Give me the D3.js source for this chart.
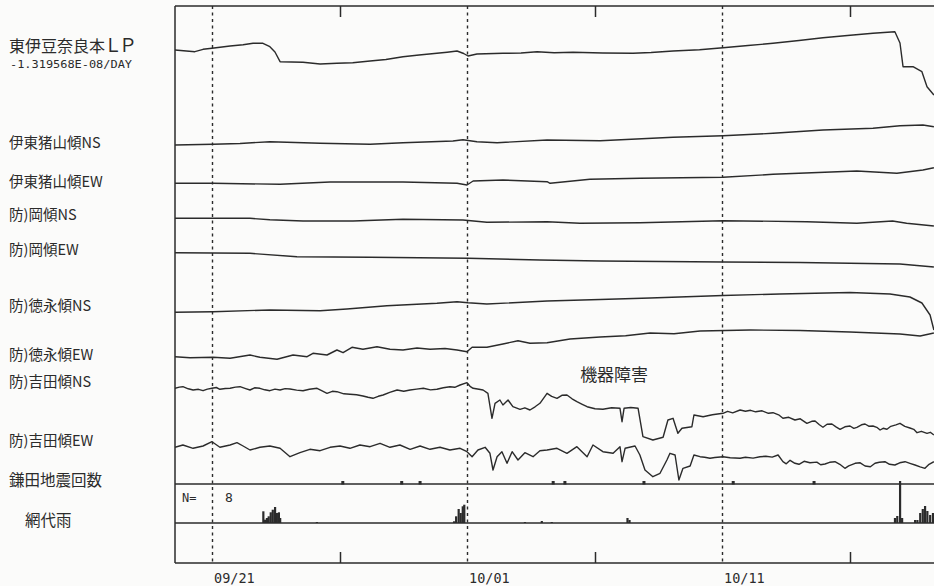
<!DOCTYPE html>
<html><head><meta charset="utf-8">
<script src="https://cdn.jsdelivr.net/npm/d3@7"></script>
<style>
body{margin:0;background:#fbfbfa;}
svg{display:block;}
</style></head><body>
<svg id="chart" width="934" height="586"></svg>
<script>
// ---------------- DATA ----------------
// time in days after 09/21 00:00
const dateLabels = ["09/21", "10/01", "10/11"];
const labelDays = [0, 10, 20];
const minorTickDays = [5, 15, 25];

const lpTitleMain = "東伊豆奈良本";
const lpTitleCode = "ＬＰ";
const lpRate = "-1.319568E-08/DAY";
const trackNames = ["伊東猪山傾NS", "伊東猪山傾EW", "防)岡傾NS", "防)岡傾EW",
  "防)徳永傾NS", "防)徳永傾EW", "防)吉田傾NS", "防)吉田傾EW"];
const quakeLabel = "鎌田地震回数";
const rainLabel = "網代雨";
const faultNote = "機器障害";
const faultNoteDay = 15.75;

// strain / tilt traces: [day, relative value]
const lpSeries = [[-1.47,0],[-0.69,-1.7],[-0.37,0.7],[-0.02,1.7],[0.69,4],[1.2,5.2],[1.59,6.7],[1.98,6.7],[2.25,3.3],[2.45,-2],[2.65,-11.7],[3.1,-12],[3.55,-12.3],[4.22,-14],[4.88,-13.3],[5.5,-12.8],[6.18,-11],[6.8,-9.5],[7.47,-6.7],[8.1,-5],[8.8,-3.3],[9.2,-2.2],[9.59,-1],[9.85,-3.5],[10.02,-6],[10.37,-4],[11.39,-3.3],[12.1,-3],[12.73,-1.7],[13.4,-2.8],[14.14,-2.3],[15.3,-3],[16.49,-3.3],[17.2,-2.5],[18.06,-1],[19.1,0.2],[20.02,2.3],[21.0,4.5],[21.98,6.7],[23.0,9.5],[23.94,12.3],[24.9,14.5],[25.9,16.7],[26.76,18.3],[26.96,7],[27.08,-16.7],[27.47,-16.7],[27.82,-21.7],[28.02,-36.7],[28.29,-45]];
const inoyamaNS = [[-1.47,0],[0.02,0.7],[1.08,1.5],[2.25,3.3],[2.92,2.7],[4.22,1.7],[6.18,0.7],[7.47,2.3],[9.43,4],[9.82,5.3],[10.37,3.3],[11.16,2.3],[13.12,5],[15.2,4.3],[18.06,7.7],[20.02,9.3],[21.98,11.7],[23.94,15],[25.9,16.7],[26.96,19.3],[27.86,20],[28.29,18.3]];
const inoyamaEW = [[-1.47,0],[0.02,0],[2.65,-1],[4.61,1.3],[7.47,1.3],[9.59,0],[9.98,-1.7],[10.22,2.3],[11.39,3.3],[13.12,1.6],[13.24,0],[14.8,4],[16.76,5],[20.02,6],[21.98,9],[25.27,12.3],[26.84,10],[27.86,13.3],[28.29,15.6]];
const okaNS = [[-1.47,0],[0.02,0],[1.47,0],[2.25,-1.4],[3.55,-2.7],[5.51,-2.7],[7.47,-1],[9.82,-1.7],[10.76,-4],[13.12,-3.4],[14.41,-5],[16.76,-4.4],[20.02,-2.4],[23.31,-3.4],[25.27,-5],[26.67,-2.7],[27.22,-5],[28.29,-7.7]];
const okaEW = [[-1.47,0],[1.47,-0.6],[3.31,-4],[6.18,-4.6],[10.02,-5.6],[12.84,-7.3],[15.2,-8.3],[20.02,-9.3],[23.04,-9.8],[26.96,-11.3],[28.29,-14.3]];
const tokunagaNS = [[-1.47,0],[0.02,0.6],[2.25,2.3],[4.22,1.6],[5.27,3.3],[6.84,6.6],[8.8,9],[9.59,10.6],[10.02,9.6],[10.76,8.3],[13.12,11.3],[15.2,12.8],[17.16,14.3],[20.02,16.8],[22.25,18.3],[25.0,19.8],[26.57,18.3],[27.35,15.3],[27.82,9.3],[28.14,-2.7],[28.29,-17.7]];
const tokunagaEW = [[-1.47,0],[-0.88,-1],[0.02,-0.6],[0.69,-1.6],[1.47,1.7],[1.86,-0.6],[2.53,-2.6],[3.16,1.7],[3.71,0],[3.94,3.4],[4.49,1.7],[4.88,6.7],[5.12,4],[5.47,9.4],[5.9,7.4],[6.45,10],[6.96,7.4],[7.47,6.7],[8.02,8.7],[8.53,7.4],[9.12,8.2],[9.59,6.7],[9.98,5],[10.18,9.4],[10.76,9.4],[11.39,12.7],[11.98,16],[12.45,13.4],[13.12,14],[14.02,17.7],[15.2,19.7],[16.2,21],[17.16,23.7],[18.1,23],[19.12,25.7],[21.08,26.7],[23.04,26.2],[25.0,24.7],[26.96,22.7],[27.75,20.7],[28.29,23.7]];
const yoshidaNS = [[-1.47,0],[-1.3,1.2],[-1.16,1.6],[-0.95,-0.5],[-0.76,-1.7],[-0.55,-1],[-0.37,-2.4],[-0.2,-0.8],[-0.02,0],[0.15,0.8],[0.29,-1],[0.5,-0.2],[0.69,0],[0.9,1.2],[1.08,1.6],[1.3,-0.3],[1.47,-1.7],[1.65,0.5],[1.86,0],[2.05,-1.5],[2.25,-2.4],[2.45,-0.8],[2.65,-1.7],[2.85,-0.3],[3.04,-0.7],[3.3,-1.8],[3.55,-2.4],[3.8,-1],[4.1,0],[4.3,-2.5],[4.49,-5],[4.7,-3],[4.88,-3.4],[5.15,-5.5],[5.39,-6],[5.65,-6.5],[5.9,-7.7],[6.1,-9],[6.29,-10],[6.5,-8],[6.69,-6.7],[6.95,-4],[7.24,-1.7],[7.5,-3],[7.75,-1.7],[8.0,-0.8],[8.27,0],[8.55,-1.6],[8.8,-1],[9.05,0.5],[9.31,1.6],[9.5,1],[9.71,3.3],[9.98,5.6],[10.1,2],[10.22,0],[10.45,-1],[10.61,-1.7],[10.8,-5],[10.96,-30],[11.08,-15],[11.27,-11.7],[11.39,-16.7],[11.59,-11.7],[11.78,-18.4],[12.06,-21],[12.25,-19.5],[12.45,-21.7],[12.65,-18.5],[12.84,-15],[13.12,-5],[13.3,-8],[13.51,-10],[13.7,-7],[13.9,-6.7],[14.1,-10.5],[14.29,-13.4],[14.5,-16],[14.69,-18.4],[15.0,-20.5],[15.31,-21],[15.65,-19.5],[15.98,-20],[16.06,-33.4],[16.14,-20],[16.4,-19.2],[16.69,-20],[16.88,-48.4],[17.27,-51.7],[17.67,-49],[17.86,-31.7],[18.06,-30],[18.25,-45],[18.41,-40],[18.8,-38.4],[18.88,-26.7],[19.24,-28.4],[19.6,-26.5],[20.02,-25],[20.2,-23],[20.4,-24.5],[20.69,-21.7],[20.9,-23],[21.1,-22],[21.3,-23.5],[21.55,-22.5],[21.8,-25],[21.98,-24.4],[22.2,-26.5],[22.37,-30],[22.6,-29],[22.84,-31.7],[23.05,-30.5],[23.31,-35],[23.5,-33],[23.63,-32.7],[23.8,-36.5],[23.94,-39],[24.1,-36],[24.29,-35.7],[24.45,-38.5],[24.61,-41],[24.8,-38.5],[25.0,-37.7],[25.15,-40],[25.27,-39],[25.45,-36.5],[25.59,-35.7],[25.75,-38],[25.9,-37.7],[26.05,-39],[26.18,-41.7],[26.3,-40],[26.45,-41],[26.6,-38],[26.8,-36.5],[26.96,-35],[27.15,-38],[27.35,-39.7],[27.5,-41],[27.63,-44.4],[27.8,-43],[28.02,-45],[28.15,-44],[28.29,-46.7]];
const yoshidaEW = [[-1.47,0],[-1.16,2.3],[-0.76,-1],[-0.37,1.3],[-0.02,5.6],[0.29,0],[0.69,2.3],[0.96,4.6],[1.2,1.3],[1.47,-2.7],[1.86,0],[2.25,1.3],[2.65,-1],[3.04,-9.4],[3.43,-5.4],[3.82,-2],[4.22,-3.4],[4.61,0],[5.0,1.3],[5.39,-1],[5.78,2.3],[6.18,0.6],[6.57,4],[6.96,0],[7.35,2.3],[7.75,-2],[8.14,1.3],[8.53,-2],[8.92,0],[9.31,-2.7],[9.71,-1],[9.98,-4.4],[10.18,-9.4],[10.41,-2.7],[10.69,0],[10.88,-6],[11.0,-22.7],[11.16,-9.4],[11.35,-4.4],[11.55,-16],[11.75,-4.4],[11.98,-12.7],[12.25,-5.4],[12.57,-9.4],[12.84,-3.4],[13.12,-2.7],[13.51,-1],[13.9,-6],[14.29,0.6],[14.69,-9.4],[14.92,2.3],[15.31,-4.4],[15.71,-6],[15.98,0.6],[16.06,-14.4],[16.18,-1],[16.57,1.3],[16.76,-7.7],[16.96,-22.7],[17.27,-29.4],[17.55,-26],[17.82,-12.7],[17.94,-6],[18.14,-7.7],[18.29,-32.7],[18.45,-21],[18.73,-18.7],[18.88,-7.7],[19.12,-9.4],[19.3,-10],[19.51,-11],[19.7,-10.2],[20.02,-9.4],[20.3,-10.5],[20.69,-11],[20.9,-10],[21.2,-10.8],[21.47,-9.4],[21.7,-9],[21.95,-9.8],[22.18,-7.7],[22.37,-14.4],[22.5,-16.5],[22.65,-13],[22.84,-16],[23.0,-17],[23.2,-14],[23.43,-15.4],[23.7,-14.8],[23.85,-17.5],[24.02,-16.7],[24.2,-15],[24.41,-14.4],[24.6,-17],[24.8,-21],[24.95,-18.5],[25.2,-16],[25.4,-15.5],[25.59,-18.7],[25.8,-19.5],[25.98,-16],[26.15,-15],[26.37,-14.4],[26.55,-17],[26.76,-17.7],[26.95,-15.5],[27.16,-14.4],[27.35,-16],[27.55,-17.7],[27.75,-19.5],[27.94,-21],[28.1,-17],[28.29,-14.4]];

// earthquake occurrences (count per event) and hourly rainfall (mm)
const quakeDays = [5.11, 7.42, 8.14, 13.36, 13.82, 16.92, 20.42, 23.59];
const quakeCounts = [1, 1, 1, 1, 1, 1, 1, 1];
const rainDays = [1.99,2.06,2.13,2.2,2.28,2.36,2.45,2.52,2.6,2.65,4.09,9.47,9.55,9.65,9.73,9.81,9.87,12.25,12.91,13.3,16.27,16.35,26.76,26.85,26.96,27.04,27.55,27.64,27.75,27.85,27.94,28.03,28.14,28.25];
const rainMM = [11.7,3.3,5,6.7,10.7,13.3,16,10,10.7,5,1,1.7,6.7,14,10,16.7,18.3,1,2,1,5,3,5,7,42,5,3,3,10,14,17,12,8,10];

// ---------------- LAYOUT ----------------
const W = 934, H = 586;
const frame = {left: 175, top: 6, right: 940, bottom: 563};
const quakeBase = 484, rainBase = 523;
const ink = "#2b2b2b";
const fontJP = "'Noto Sans CJK JP','Noto Sans CJK SC',sans-serif";

const t0 = Date.UTC(2000, 8, 21);
const toDate = d => new Date(t0 + d * 864e5);

const x = d3.scaleUtc()
  .domain([toDate(-1.4706), toDate(28.5294)])
  .range([frame.left, frame.right]);

const svg = d3.select("#chart");
svg.append("rect").attr("width", W).attr("height", H).attr("fill", "#fbfbfa");

svg.append("defs").append("clipPath").attr("id", "plotClip")
  .append("rect").attr("x", frame.left).attr("y", frame.top)
  .attr("width", frame.right - frame.left).attr("height", frame.bottom - frame.top);

// frame lines
const g = svg.append("g");
g.append("line").attr("x1", frame.left).attr("x2", frame.right).attr("y1", frame.top).attr("y2", frame.top);
g.append("line").attr("x1", frame.left).attr("x2", frame.right).attr("y1", frame.bottom).attr("y2", frame.bottom);
g.append("line").attr("x1", frame.left).attr("x2", frame.left).attr("y1", frame.top).attr("y2", frame.bottom);
g.append("line").attr("x1", frame.left).attr("x2", frame.right).attr("y1", quakeBase).attr("y2", quakeBase);
g.append("line").attr("x1", frame.left).attr("x2", frame.right).attr("y1", rainBase).attr("y2", rainBase);
g.selectAll("line").attr("stroke", ink).attr("stroke-width", 1.5);

// dashed day lines
svg.append("g").selectAll("line").data(labelDays).join("line")
  .attr("x1", d => x(toDate(d))).attr("x2", d => x(toDate(d)))
  .attr("y1", frame.top).attr("y2", frame.bottom)
  .attr("stroke", ink).attr("stroke-width", 1.4).attr("stroke-dasharray", "3,3.5");

// minor ticks (top & bottom, inward)
const topAxis = d3.axisTop(x).tickValues(minorTickDays.map(toDate)).tickSize(-11).tickFormat("");
const botAxis = d3.axisBottom(x).tickValues(minorTickDays.map(toDate)).tickSize(-11).tickFormat("");
[svg.append("g").attr("transform", `translate(0,${frame.top})`).call(topAxis),
 svg.append("g").attr("transform", `translate(0,${frame.bottom})`).call(botAxis)].forEach(a => {
  a.select(".domain").remove();
  a.selectAll(".tick line").attr("stroke", ink).attr("stroke-width", 1.5);
});

// date labels
const lblAxis = d3.axisBottom(x).tickValues(labelDays.map(toDate)).tickSize(0)
  .tickFormat((d, i) => dateLabels[i]);
const la = svg.append("g").attr("transform", `translate(0,${frame.bottom})`).call(lblAxis);
la.select(".domain").remove();
la.selectAll(".tick text").attr("text-anchor", "start").attr("dx", 1).attr("y", 10).attr("dy", "0.71em")
  .attr("font-family", "'DejaVu Sans Mono',monospace").attr("font-size", 13.5).attr("fill", ink);

// traces
const traces = [
  {data: lpSeries, base: 50},
  {data: inoyamaNS, base: 145},
  {data: inoyamaEW, base: 183.3},
  {data: okaNS, base: 218.3},
  {data: okaEW, base: 252.7},
  {data: tokunagaNS, base: 312.3},
  {data: tokunagaEW, base: 356.7},
  {data: yoshidaNS, base: 388.3},
  {data: yoshidaEW, base: 447.3}
];
const plot = svg.append("g").attr("clip-path", "url(#plotClip)");
traces.forEach(tr => {
  const y = d3.scaleLinear().domain([-60, 60]).range([tr.base + 60, tr.base - 60]);
  const line = d3.line().x(d => x(toDate(d[0]))).y(d => y(d[1]));
  plot.append("path").datum(tr.data).attr("d", line)
    .attr("fill", "none").attr("stroke", ink).attr("stroke-width", 1.4)
    .attr("stroke-linejoin", "round");
});

// earthquake marks
const yq = d3.scaleLinear().domain([0, 8]).range([quakeBase, quakeBase - 16]);
plot.append("g").selectAll("rect").data(quakeDays).join("rect")
  .attr("x", d => x(toDate(d)) - 1.5).attr("width", 3)
  .attr("y", (d, i) => yq(quakeCounts[i]) - 1).attr("height", (d, i) => quakeBase - yq(quakeCounts[i]) + 1.5)
  .attr("fill", ink);

// rain bars
const yr = d3.scaleLinear().domain([0, 40]).range([rainBase, rainBase - 40]);
plot.append("g").selectAll("rect").data(rainDays).join("rect")
  .attr("x", d => x(toDate(d)) - 1).attr("width", 2.2)
  .attr("y", (d, i) => yr(rainMM[i])).attr("height", (d, i) => rainBase - yr(rainMM[i]))
  .attr("fill", ink);

// N= label
svg.append("text").attr("x", 182).attr("y", 502).text("N=")
  .attr("font-family", "'DejaVu Sans Mono',monospace").attr("font-size", 12).attr("fill", ink);
svg.append("text").attr("x", 225).attr("y", 502).text(String(d3.sum(quakeCounts)))
  .attr("font-family", "'DejaVu Sans Mono',monospace").attr("font-size", 13).attr("fill", ink);

// left labels
const title = svg.append("text").attr("x", 9).attr("y", 52)
  .attr("font-family", fontJP).attr("font-size", 16).attr("fill", ink);
title.append("tspan").text(lpTitleMain);
title.append("tspan").attr("font-size", 18).attr("letter-spacing", -3).attr("dx", -1).text(lpTitleCode);
svg.append("text").attr("x", 10).attr("y", 68).text(lpRate)
  .attr("font-family", "'DejaVu Sans Mono',monospace").attr("font-size", 11).attr("fill", ink)
  .attr("textLength", 122).attr("lengthAdjust", "spacingAndGlyphs");

const labelY = [142.5, 181.5, 215, 249.5, 306, 355, 381.5, 440.5];
svg.append("g").selectAll("text").data(trackNames).join("text")
  .attr("x", 9).attr("y", (d, i) => labelY[i]).attr("dy", "0.36em").text(d => d)
  .attr("font-family", fontJP).attr("font-size", 14.5).attr("fill", ink);
svg.append("text").attr("x", 9).attr("y", 480.5).attr("dy", "0.36em").text(quakeLabel)
  .attr("font-family", fontJP).attr("font-size", 15.5).attr("fill", ink);
svg.append("text").attr("x", 25).attr("y", 520.5).attr("dy", "0.36em").text(rainLabel)
  .attr("font-family", fontJP).attr("font-size", 15.5).attr("fill", ink);

// annotation
svg.append("text").attr("x", x(toDate(faultNoteDay))).attr("y", 374.5).attr("dy", "0.36em")
  .attr("text-anchor", "middle").text(faultNote)
  .attr("font-family", fontJP).attr("font-size", 17).attr("fill", ink);
</script></body></html>
